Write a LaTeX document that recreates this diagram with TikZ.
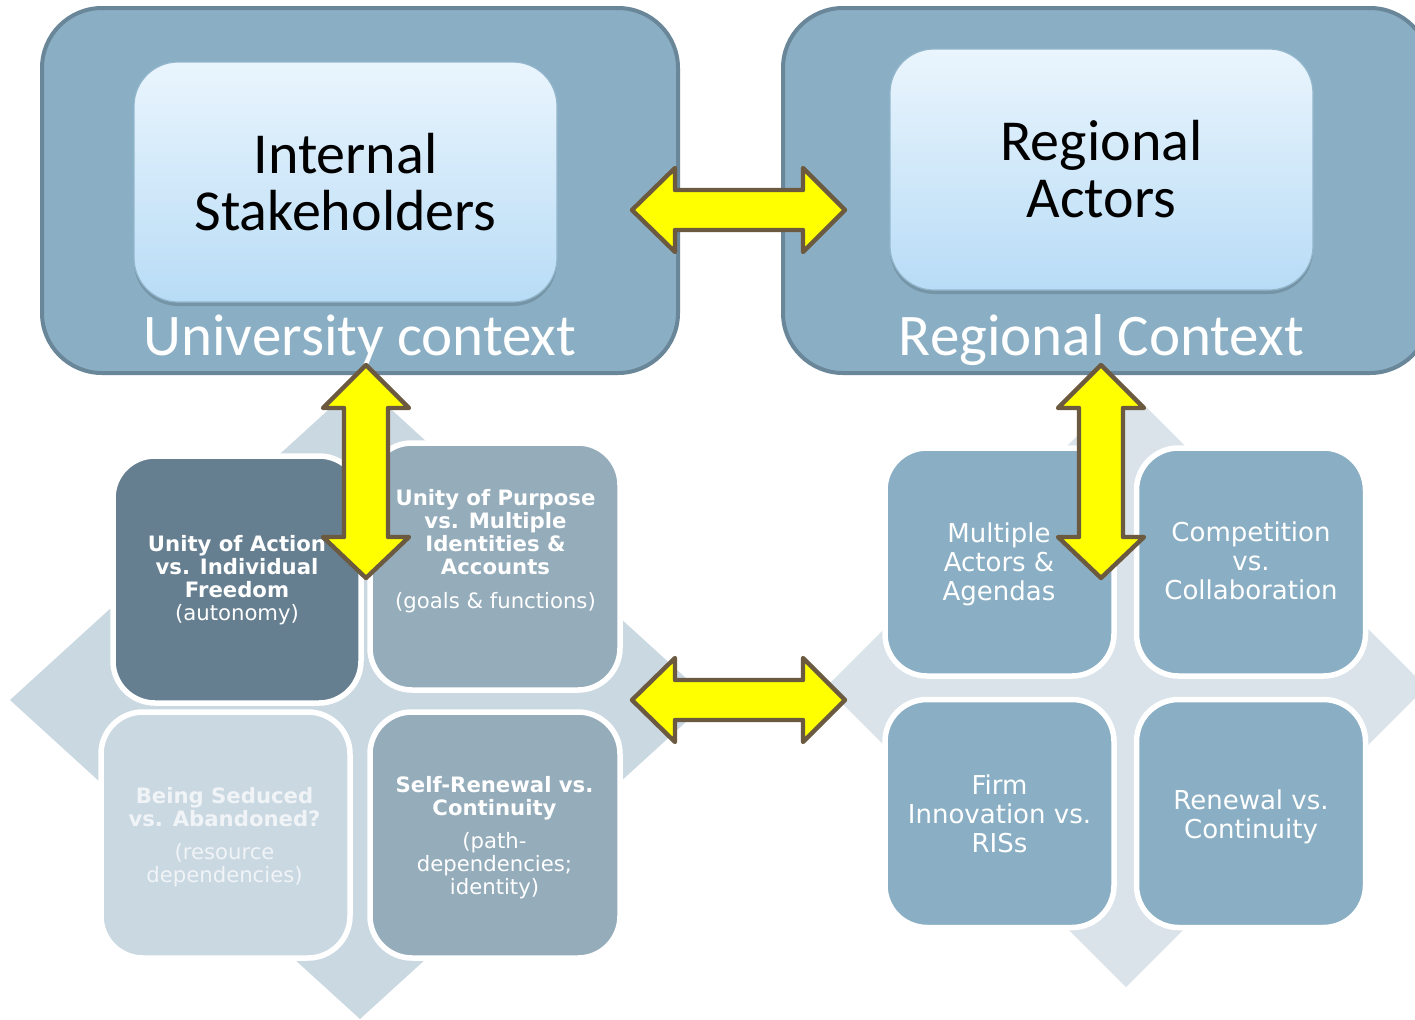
\documentclass[tikz,border=0pt]{standalone}
\usepackage{fontspec}
\setmainfont{DejaVu Sans}
\newfontfamily\calfont{Carlito}
\usetikzlibrary{shadows}
\definecolor{ctxfill}{HTML}{8AAFC4}
\definecolor{ctxline}{HTML}{6A8699}
\definecolor{innertop}{HTML}{EAF5FD}
\definecolor{innerbot}{HTML}{B8DCF6}
\definecolor{innerline}{HTML}{93B6CC}
\definecolor{qdark}{HTML}{657F91}
\definecolor{qmid}{HTML}{95ACBB}
\definecolor{qlight}{HTML}{CAD8E2}
\definecolor{dmdright}{HTML}{DAE3EA}
\definecolor{arrowfill}{HTML}{FFFF00}
\definecolor{arrowline}{HTML}{6B5A40}
\definecolor{qclighttext}{HTML}{F0F4F7}
\begin{document}
\begin{tikzpicture}[x=0.5pt,y=-0.5pt,
  ctx/.style={draw=ctxline, line width=2pt, fill=ctxfill, rounded corners=30pt, inner sep=0pt},
  inbox/.style={rounded corners=22pt, top color=innertop, bottom color=innerbot, draw=innerline, line width=0.6pt,
    drop shadow={shadow xshift=0pt, shadow yshift=-2pt, opacity=0.15, fill=black}, inner sep=0pt,
    font=\calfont\fontsize{29}{28.5}\selectfont, align=center, text=black},
  ctxtxt/.style={font=\calfont\fontsize{29.5}{30}\selectfont, text=white, inner sep=0pt, anchor=base},
  quad/.style={draw=white, line width=2.75pt, rounded corners=21pt, inner sep=0pt},
  ltxt/.style={font=\fontsize{10.6}{11.5}\selectfont, align=center, text=white, inner sep=0pt},
  rtxt/.style={font=\fontsize{13}{14.5}\selectfont, align=center, text=white, inner sep=0pt},
  yarrow/.style={fill=arrowfill, draw=arrowline, line width=2.2pt, line join=round},
  harrow/.pic={\draw[yarrow] (-106.5,0) -- ++(43,-42) -- ++(0,22) -- ++(128,0) -- ++(0,-22) -- ++(42,42)
     -- ++(-42,42) -- ++(0,-22) -- ++(-128,0) -- ++(0,22) -- cycle;},
  varrow/.pic={\draw[yarrow] (0,-106.5) -- ++(43,43) -- ++(-21,0) -- ++(0,129) -- ++(21,0) -- ++(-43,41)
     -- ++(-43,-41) -- ++(21,0) -- ++(0,-129) -- ++(-21,0) -- cycle;}
]
\useasboundingbox (0,0) rectangle (1415,1019);
\clip (0,0) rectangle (1415,1019);
\fill[white] (0,0) rectangle (1415,1019);

% background diamonds
\fill[qlight] (360,381) -- (710,700) -- (360,1019) -- (10,700) -- cycle;
\fill[dmdright] (1126,387) -- (1426,687) -- (1126,987) -- (826,687) -- cycle;

% context boxes
\node[ctx, minimum width=318pt, minimum height=182.5pt] (uni) at (360,190.5) {};
\node[ctx, minimum width=323.5pt, minimum height=182.5pt] (reg) at (1106.5,190.5) {};
\node[inbox, minimum width=211.5pt, minimum height=120pt] (ist) at (345.5,182) {Internal\\Stakeholders};
\node[inbox, minimum width=211.5pt, minimum height=120.5pt] (ract) at (1101.5,169.5) {Regional\\Actors};
\node[ctxtxt] (unil) at (360,355) {University context};
\node[ctxtxt] (regl) at (1101.5,355) {Regional Context};

% left quadrants
\node[quad, fill=qdark, minimum width=124pt, minimum height=123.5pt] (qa) at (237,579.5) {};
\node[quad, fill=qmid, minimum width=125pt, minimum height=123.5pt] (qb) at (495,566.5) {};
\node[quad, fill=qlight, minimum width=124.5pt, minimum height=123pt] (qc) at (225.5,835) {};
\node[quad, fill=qmid, minimum width=125pt, minimum height=123pt] (qd) at (495,835) {};
\node[ltxt] (qat) at (237,580) {\textbf{Unity of Action}\\\textbf{vs. Individual}\\\textbf{Freedom}\\(autonomy)};
\node[ltxt] (qbt) at (495.5,551.5) {\textbf{Unity of Purpose}\\\textbf{vs. Multiple}\\\textbf{Identities \&}\\\textbf{Accounts}\\[5.5pt](goals \& functions)};
\node[ltxt, text=qclighttext] (qct) at (224.5,837.5) {\textbf{Being Seduced}\\\textbf{vs. Abandoned?}\\[5pt](resource\\dependencies)};
\node[ltxt] (qdt) at (494.5,837.5) {\textbf{Self-Renewal vs.}\\\textbf{Continuity}\\[4.75pt](path-\\dependencies;\\identity)};

% right quadrants
\node[quad, fill=ctxfill, minimum width=114.5pt, minimum height=114pt] (ra) at (999.5,562) {};
\node[quad, fill=ctxfill, minimum width=114.5pt, minimum height=114pt] (rb) at (1251,562) {};
\node[quad, fill=ctxfill, minimum width=114.5pt, minimum height=114pt] (rc) at (999.5,813.5) {};
\node[quad, fill=ctxfill, minimum width=114.5pt, minimum height=114pt] (rd) at (1251,813.5) {};
\node[rtxt] (rat) at (999,564) {Multiple\\Actors \&\\Agendas};
\node[rtxt] (rbt) at (1251,561) {Competition\\vs.\\Collaboration};
\node[rtxt] (rct) at (999.5,813.5) {Firm\\Innovation vs.\\RISs};
\node[rtxt] (rdt) at (1251,816.5) {Renewal vs.\\Continuity};

% yellow double arrows
\coordinate (htop) at (738.5,210);
\coordinate (hmid) at (738.5,700);
\coordinate (vleft) at (366,471.5);
\coordinate (vright) at (1101,471.5);
\pic at (htop) {harrow};
\pic at (hmid) {harrow};
\pic at (vleft) {varrow};
\pic at (vright) {varrow};
\end{tikzpicture}
\end{document}
